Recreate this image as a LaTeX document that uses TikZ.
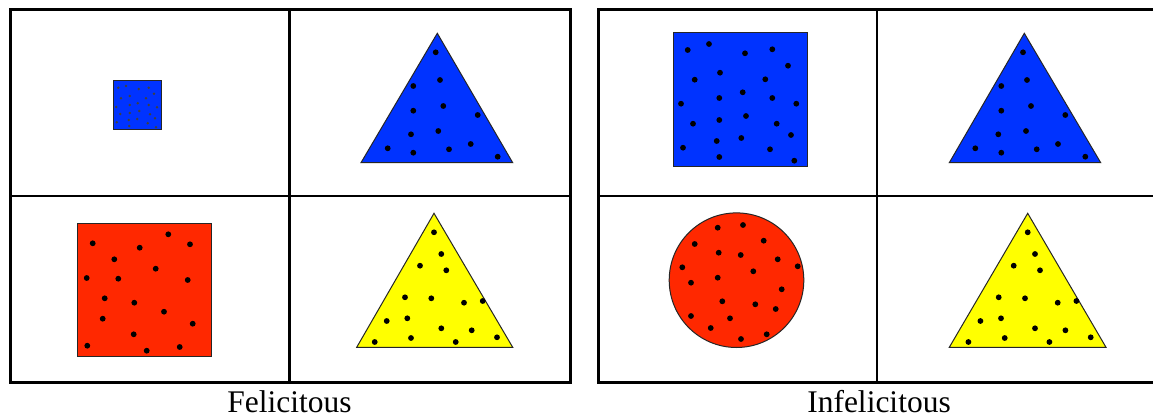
\documentclass[tikz,border=0pt]{standalone}
\usepackage{fontspec}
\setmainfont{Liberation Serif}
\definecolor{shblue}{RGB}{0,51,255}
\definecolor{shred}{RGB}{255,40,0}
\definecolor{shyellow}{RGB}{255,255,0}
\tikzset{
  frame/.style={line width=3pt, black},
  inner/.style={line width=2.4pt, black},
  figshape/.style={draw=black!85, line width=1pt, line join=miter},
  dotbig/.style={fill=black},
  lbl/.style={font=\fontsize{31.5}{36}\selectfont, anchor=base, inner sep=0pt}
}
\begin{document}
\begin{tikzpicture}[x=1pt,y=-1pt]
\useasboundingbox (0,0) rectangle (1153,417);
\fill[white] (0,0) rectangle (1153,417);
\begin{scope}
\clip (0,0) rectangle (1153,417);
% ---------- left panel ----------
\draw[inner] (289.5,10) -- (289.5,382.5);
\draw[inner] (10,196) -- (570,196);
\draw[frame] (10,10) rectangle (570,382.5);
% ---------- right panel ----------
\draw[inner] (877,10) -- (877,382.5);
\draw[inner] (598,196) -- (1170,196);
\draw[frame] (598,10) rectangle (1170,382.5);

% cell 1: small blue square
\draw[figshape, fill=shblue] (113,81) rectangle (161.5,130);
\foreach \x/\y in {118.3/87.7,126/86,138.7/89,148.7/87.7,154/93.7,121/98.3,129.7/96,146/98.3,129.7/105,137.7/103.3,148.7/105,116.3/107,157/107.3,120.3/114,129.7/113,139.3/111,150/114.3,155/118.3,128.7/120,137.3/119,116.7/122.3,147.7/123.3,129.3/126,156/127.3}
  \fill[black!75] (\x,\y) circle (1.4);

% cell 2: blue triangle
\draw[figshape, fill=shblue] (437.3,33.3) -- (512.7,162.7) -- (361,162.7) -- cycle;
\foreach \x/\y in {435.7/52.3,440/80,413.3/86,413.3/110.7,443.3/106,477.7/115,411/134.3,438.3/131,387.7/148.3,413.3/152.7,449/149.3,470.7/144,497.7/156.7}
  \fill[dotbig] (\x,\y) circle (2.9);

% cell 3: red square
\draw[figshape, fill=shred] (77,223) rectangle (211.5,356.5);
\foreach \x/\y in {92.7/243.3,168.3/234.3,139.7/247.7,190/244.3,114.3/259.3,155.7/268.7,86.7/278,118.3/278.7,187.7/280,104.7/298.3,134.3/302.7,164/311.7,102.7/318.7,192.7/323.7,133.7/334.3,87.3/345.7,146.7/350.7,179.7/347}
  \fill[dotbig] (\x,\y) circle (2.9);

% cell 4: yellow triangle
\draw[figshape, fill=shyellow] (434,213.3) -- (512.7,347.3) -- (356.7,347.3) -- cycle;
\foreach \x/\y in {434/232.3,441.3/254,420/265.7,446.3/270.3,405/297.3,431.3/298.3,464/302.7,482.7/301,386.7/321,407.3/318.3,441.3/328.3,471.7/330.3,497/337.3,374.7/342,411/338,455.7/342}
  \fill[dotbig] (\x,\y) circle (2.9);

% cell 5: big blue square
\draw[figshape, fill=shblue] (673.5,32.5) rectangle (807.5,166);
\foreach \x/\y in {687.7/50,709/44,745/53.3,772.3/49.3,788/65.7,720/72.7,694.7/79.7,765.3/79.3,742.7/92.3,719.3/98,772.3/98,681/103.7,796.3/103.7,746/116,719.3/120,693/123.7,776.7/123.7,791/135,741.3/138,716.7/141,683/147.7,770/149.3,719.3/157,794.3/160.7}
  \fill[dotbig] (\x,\y) circle (2.9);

% cell 6: blue triangle
\draw[figshape, fill=shblue] (1024.3,33.3) -- (1100.7,162.7) -- (949.3,162.7) -- cycle;
\foreach \x/\y in {1023/52.3,1027/80,1001.3/86,1001.3/110.7,1031/106,1065.3/115,998.3/134.3,1026/131,975.3/148.3,1001.3/152.7,1036.7/149.3,1058/144,1085.3/156.7}
  \fill[dotbig] (\x,\y) circle (2.9);

% cell 7: red circle
\draw[figshape, fill=shred] (736.5,280.2) circle (67.3);
\foreach \x/\y in {717.7/227.7,743/225,694.7/244,763.7/240.7,718.7/252.7,740.7/255,777.7/259.3,682.3/267.3,797.7/266.3,753.3/271.3,691/282.7,717.7/277.7,781.7/289.3,722.3/301.3,755.3/304.3,775.7/309,691/316,730/318.3,710.7/328,766.7/334.3,741/339}
  \fill[dotbig] (\x,\y) circle (2.9);

% cell 8: yellow triangle
\draw[figshape, fill=shyellow] (1027.7,213.3) -- (1106,347.3) -- (949.3,347.3) -- cycle;
\begin{scope}[xshift=593.7pt]
\foreach \x/\y in {434/232.3,441.3/254,420/265.7,446.3/270.3,405/297.3,431.3/298.3,464/302.7,482.7/301,386.7/321,407.3/318.3,441.3/328.3,471.7/330.3,497/337.3,374.7/342,411/338,455.7/342}
  \fill[dotbig] (\x,\y) circle (2.9);
\end{scope}
\end{scope}

% labels
\node[lbl] (fel) at (289.5,412.5) {Felicitous};
\node[lbl] (infel) at (879,412.5) {Infelicitous};
\end{tikzpicture}
\end{document}
